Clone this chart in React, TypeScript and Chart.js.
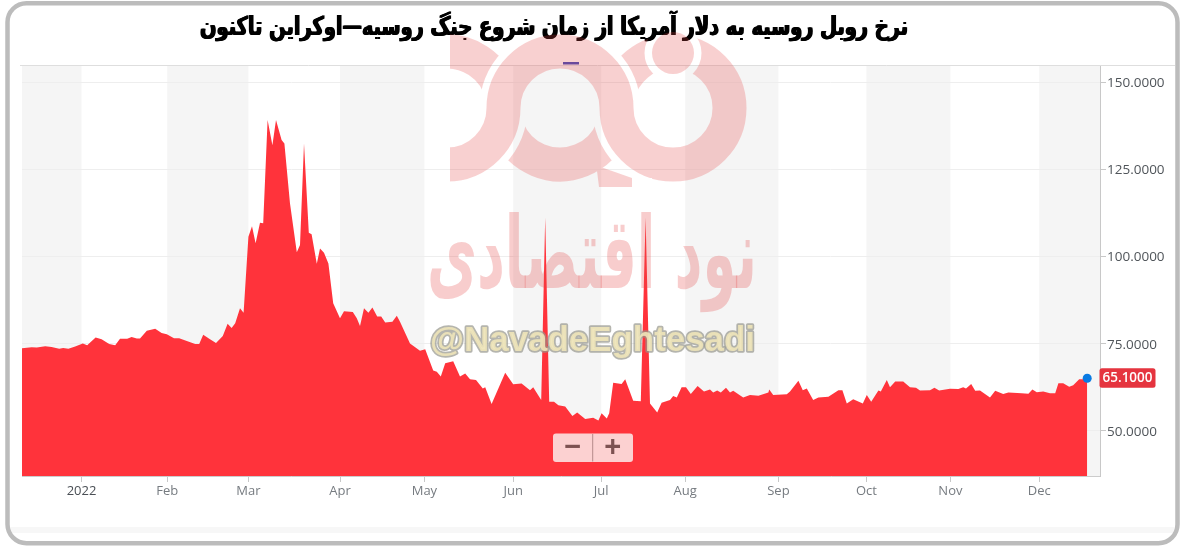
import React, { useEffect, useRef } from "react";
import { Chart, registerables } from "chart.js";

Chart.register(...registerables);

const chartTitle = "نرخ روبل روسیه به دلار آمریکا از زمان شروع جنگ روسیه—اوکراین تاکنون";
const watermarkName = "نود اقتصادی";
const watermarkHandle = "@NavadeEghtesadi";

const monthLabels = ["2022", "Feb", "Mar", "Apr", "May", "Jun", "Jul", "Aug", "Sep", "Oct", "Nov", "Dec"];
const monthSessions = [14.875, 36.3, 56.6, 79.5, 100.6, 122.8, 144.8, 165.8, 189.1, 211.1, 232.1, 254.3];
const yTicks = [50, 75, 100, 125, 150];

const janMarSessions = [0, 2.4, 3.7, 5.8, 7.4, 9.3, 10.3, 11.6, 13.3, 15.2, 16.3, 18.4, 19.9, 21.8, 23.3, 24.5, 26.3, 27.4, 28.7, 29.5, 31.2, 33.3, 34.9, 36.2, 38, 39.3, 41.2, 43.3, 44.3, 45.3, 47, 48.5, 50.2, 51.4, 52.4, 53.3, 54.5, 55.4, 56.6, 57.5, 58.4, 59.5, 60.3, 61.4, 62.6, 63.5, 64.9, 65.6, 67, 68.7, 69.5, 70.5, 71.7, 72.4, 73.7, 74.5, 75.5, 76.6, 77.8, 79.5, 80.5, 82.7, 83.7, 84.5, 85.5, 86.6, 87.6, 88.8, 89.8, 90.8, 92.6, 93.7];
const janMarRates = [73.7, 74.0, 73.9, 74.3, 74.1, 73.6, 73.8, 73.6, 74.2, 75.1, 74.6, 76.8, 76.3, 74.9, 74.6, 76.4, 76.4, 76.9, 76.5, 76.5, 78.7, 79.3, 78.1, 77.7, 76.6, 76.6, 75.8, 74.9, 74.9, 77.6, 76.3, 75.2, 77.2, 80.7, 79.5, 80.9, 85.2, 83.9, 105.7, 108.7, 103.8, 109.7, 109.5, 139.1, 131.9, 139.1, 133.4, 132.4, 115.2, 101.2, 103.3, 132.4, 106.8, 106.4, 97.9, 102.3, 101.1, 98.0, 86.6, 82.3, 84.3, 84.1, 82.3, 80.1, 85.2, 83.9, 85.4, 82.8, 82.8, 81.1, 81.3, 83.0];

const aprSepSessions = [94.5, 97, 99.5, 100.8, 102.8, 103.7, 104.7, 105.8, 107.8, 109.5, 110.8, 112, 113.5, 115.2, 115.8, 117.4, 120.8, 122.8, 124.9, 127, 127.8, 129.8, 130.8, 131.8, 133, 134.1, 135.8, 137.6, 138.8, 140.8, 142.8, 144.1, 144.9, 146.2, 146.8, 147.8, 149.9, 150.8, 152.8, 154.7, 155.9, 157, 158.8, 159.9, 162, 162.8, 163.7, 164.9, 166, 167.2, 168.9, 170.5, 172, 172.8, 173.8, 174.7, 176, 177, 177.8, 180.3, 182, 184.1, 186.6, 186.8, 187.8, 191.2];
const aprSepRates = [81.3, 75.1, 73.0, 73.4, 67.3, 67.0, 65.6, 69.4, 70.0, 65.6, 66.5, 64.8, 64.6, 62.2, 62.5, 57.7, 66.7, 63.4, 63.6, 61.7, 62.5, 58.9, 111.2, 58.4, 58.4, 57.4, 57.0, 54.3, 55.3, 53.4, 53.8, 53.0, 55.1, 53.6, 55.1, 63.8, 63.5, 64.8, 58.7, 58.5, 111.2, 57.9, 55.3, 58.1, 58.9, 60.0, 59.6, 62.5, 62.5, 60.6, 62.9, 61.3, 61.9, 61.0, 61.6, 61.0, 62.4, 61.0, 61.5, 59.6, 60.3, 60.1, 61.0, 61.9, 60.3, 60.5];

const sepDecSessions = [192, 194.1, 195.2, 196.2, 197.8, 199.1, 201.6, 204.1, 205.1, 206.2, 207.8, 210.2, 211.2, 212.3, 214.1, 214.7, 216.2, 217, 218.3, 220.3, 222, 223.5, 224.5, 227, 228.1, 229.3, 232, 234.1, 235.3, 236, 237.3, 238.3, 239.5, 242, 243.3, 245.3, 246.6, 249.9, 251.6, 252.6, 253.7, 255.3, 257, 258.3, 259.1, 260.3, 261.8, 262.8, 264.3, 265.3, 266.3];
const sepDecRates = [61.3, 64.4, 61.7, 62.2, 58.9, 59.6, 59.8, 61.7, 61.7, 57.9, 59.1, 57.9, 60.3, 58.4, 61.6, 61.3, 64.6, 62.5, 64.2, 64.2, 62.5, 62.4, 61.6, 61.7, 62.4, 61.6, 62.1, 62.0, 62.5, 62.2, 63.5, 61.5, 61.6, 59.6, 61.5, 60.6, 61.0, 60.8, 60.7, 61.9, 61.1, 61.3, 60.8, 60.8, 63.7, 63.7, 62.7, 63.1, 64.8, 64.8, 65.1];

const sessions = [...janMarSessions, ...aprSepSessions, ...sepDecSessions];
const rates = [...janMarRates, ...aprSepRates, ...sepDecRates];
const lastRate = rates[rates.length - 1];

const W = 1188;
const H = 549;
const AREA = { left: 22, right: 1100, top: 66, bottom: 476 };
const TITLE_CENTER = 554;
const TITLE_SQUEEZE = 0.745;

const backdropPlugin = {
  id: "backdrop",
  beforeDraw(chart: any) {
    const { ctx, chartArea, scales } = chart;
    ctx.save();
    ctx.fillStyle = "#ffffff";
    ctx.fillRect(0, 0, W, H);
    ctx.fillStyle = "#f7f7f7";
    ctx.fillRect(10, 527, 1165, 6);
    ctx.fillStyle = "#f5f5f5";
    const edges = [scales.x.min, ...monthSessions, scales.x.max];
    for (let i = 0; i < edges.length - 1; i += 2) {
      const a = scales.x.getPixelForValue(edges[i]);
      const b = scales.x.getPixelForValue(edges[i + 1]);
      ctx.fillRect(a, chartArea.top, b - a, chartArea.bottom - chartArea.top);
    }
    ctx.strokeStyle = "#dedede";
    ctx.lineWidth = 1;
    ctx.beginPath();
    ctx.moveTo(20, 65.5);
    ctx.lineTo(1175, 65.5);
    ctx.stroke();
    ctx.strokeStyle = "#bcbcbc";
    ctx.lineWidth = 4.5;
    ctx.beginPath();
    ctx.roundRect(7.5, 3.2, 1170, 540, 19);
    ctx.stroke();
    ctx.restore();
  },
};

function drawLogo(): HTMLCanvasElement {
  const c = document.createElement("canvas");
  c.width = W;
  c.height = H;
  const g = c.getContext("2d") as CanvasRenderingContext2D;
  const cy = 108;
  const ax = 447;
  const bx = 560;
  const dx = 673;
  const r = 56.5;
  const lw = 34;
  g.lineWidth = lw;
  g.strokeStyle = "#000";
  g.fillStyle = "#000";
  g.beginPath();
  g.arc(ax, cy, r, -Math.PI / 2 - 0.2, -0.2);
  g.stroke();
  g.beginPath();
  g.arc(bx, cy, r, 0.4, Math.PI - 0.4);
  g.stroke();
  g.beginPath();
  g.arc(dx, cy, r, Math.PI + 0.2, -Math.PI / 2);
  g.stroke();
  g.beginPath();
  g.moveTo(595, 165);
  g.lineTo(632, 178);
  g.lineTo(632, 187);
  g.lineTo(599, 187);
  g.lineTo(597, 171);
  g.closePath();
  g.fill();
  const sPath = () => {
    g.beginPath();
    g.arc(ax, cy, r, Math.PI / 2, 0, true);
    g.arc(bx, cy, r, Math.PI, 0, false);
    g.arc(dx, cy, r, Math.PI, -Math.PI / 2, true);
  };
  g.globalCompositeOperation = "destination-out";
  g.lineWidth = lw + 14;
  sPath();
  g.stroke();
  g.globalCompositeOperation = "source-over";
  g.lineWidth = lw;
  sPath();
  g.stroke();
  g.globalCompositeOperation = "destination-out";
  g.beginPath();
  g.arc(dx, 53, 28.5, 0, Math.PI * 2);
  g.fill();
  g.globalCompositeOperation = "source-over";
  g.beginPath();
  g.arc(dx, 53, 21, 0, Math.PI * 2);
  g.fill();
  g.globalCompositeOperation = "destination-out";
  g.fillRect(0, 0, 450, H);
  g.fillRect(632, 178, 20, 12);
  g.globalCompositeOperation = "source-in";
  g.fillStyle = "#e64646";
  g.fillRect(0, 0, W, H);
  return c;
}

const overlayPlugin = {
  id: "overlay",
  afterDraw(chart: any) {
    const { ctx, scales } = chart;
    ctx.save();
    // logo watermark
    ctx.globalAlpha = 0.25;
    ctx.drawImage(drawLogo(), 0, 0);
    ctx.globalAlpha = 1;

    // purple dash
    ctx.fillStyle = "#6a4a9c";
    ctx.fillRect(563, 62, 16, 2.5);

    // name watermark
    ctx.fillStyle = "rgba(230,70,70,0.27)";
    ctx.textAlign = "center";
    ctx.textBaseline = "alphabetic";
    ctx.font = 'bold 100px "DejaVu Sans"';
    ctx.fillText(watermarkName, 592, 288, 330);

    // handle watermark
    ctx.font = 'bold 35px "Liberation Sans"';
    ctx.lineJoin = "round";
    ctx.lineWidth = 3.5;
    ctx.strokeStyle = "rgba(150,150,140,0.7)";
    ctx.strokeText(watermarkHandle, 592.5, 351, 325);
    ctx.fillStyle = "rgba(238,228,185,0.92)";
    ctx.fillText(watermarkHandle, 592.5, 351, 325);

    // last value tag
    const yLast = scales.y.getPixelForValue(lastRate);
    ctx.fillStyle = "#e5343f";
    ctx.beginPath();
    ctx.roundRect(1099.5, yLast - 10, 56, 19.5, 2.5);
    ctx.fill();
    ctx.fillStyle = "#ffffff";
    ctx.font = '600 13.5px "Open Sans"';
    ctx.textAlign = "center";
    ctx.textBaseline = "middle";
    ctx.fillText(lastRate.toFixed(4), 1127.5, yLast + 0.2);

    // zoom control
    ctx.fillStyle = "rgba(252,226,226,0.9)";
    ctx.beginPath();
    ctx.roundRect(553, 433.5, 80, 28.5, 3);
    ctx.fill();
    ctx.strokeStyle = "#b58a8a";
    ctx.lineWidth = 1;
    ctx.beginPath();
    ctx.moveTo(592.7, 434);
    ctx.lineTo(592.7, 461.5);
    ctx.stroke();
    ctx.fillStyle = "#7d5252";
    ctx.font = 'bold 29px "Liberation Sans"';
    ctx.fillText("−", 572.7, 447.5);
    ctx.fillText("+", 612.7, 447.5);
    ctx.restore();
  },
};

// The title box keeps its place in the layout; only its drawing is narrowed and thickened.
const titleShapePlugin = {
  id: "titleShape",
  afterLayout(chart: any) {
    const block = chart.titleBlock;
    if (!block || block.__shaped) return;
    const original = block.draw;
    block.__shaped = true;
    block.draw = function (...args: any[]) {
      const ctx = chart.ctx;
      this.left = 0;
      this.right = 2 * TITLE_CENTER;
      for (const dx of [-0.7, 0, 0.7]) {
        ctx.save();
        ctx.translate(TITLE_CENTER + dx, 0);
        ctx.scale(TITLE_SQUEEZE, 1);
        ctx.translate(-TITLE_CENTER, 0);
        original.apply(this, args);
        ctx.restore();
      }
    };
  },
};

export default function App() {
  const ref = useRef<HTMLCanvasElement | null>(null);
  useEffect(() => {
    if (!ref.current) return;
    const chart = new Chart(ref.current, {
      type: "line",
      data: {
        datasets: [
          {
            label: "RUB/USD",
            data: sessions.map((x, i) => ({ x, y: rates[i] })),
            backgroundColor: "#ff333b",
            borderColor: "#ff333b",
            borderWidth: 0,
            tension: 0,
            fill: "start",
            pointRadius: (c: any) => (c.dataIndex === sessions.length - 1 ? 4.5 : 0),
            pointBackgroundColor: "#0a7ae2",
            pointBorderWidth: 0,
            clip: false,
          },
        ],
      },
      options: {
        responsive: false,
        animation: false,
        devicePixelRatio: 1,
        layout: { padding: { left: AREA.left, right: 0, top: 0, bottom: 0 } },
        plugins: {
          legend: { display: false },
          tooltip: { enabled: false },
          title: {
            display: true,
            text: chartTitle,
            color: "#000000",
            font: { family: '"DejaVu Sans"', size: 26, weight: "bold", lineHeight: 1.2 },
            padding: { top: 13, bottom: 21.8 },
          },
        },
        scales: {
          x: {
            type: "linear",
            min: 0,
            max: 269.5,
            afterBuildTicks: (s: any) => {
              s.ticks = monthSessions.map((value) => ({ value }));
            },
            afterFit: (s: any) => {
              s.height = H - AREA.bottom;
            },
            grid: { drawOnChartArea: false, drawTicks: true, tickLength: 6, color: "#c8c8c8" },
            border: { display: true, color: "#cccccc" },
            ticks: {
              autoSkip: false,
              maxRotation: 0,
              padding: 1,
              color: (c: any) => (c.index === 0 ? "#4a4f55" : "#767b80"),
              font: { family: '"Open Sans"', size: 13 },
              callback: (_v: any, i: number) => monthLabels[i],
            },
          },
          y: {
            type: "linear",
            position: "right",
            min: 37.1,
            max: 154.6,
            afterBuildTicks: (s: any) => {
              s.ticks = yTicks.map((value) => ({ value }));
            },
            afterFit: (s: any) => {
              s.width = W - AREA.right;
            },
            grid: { color: "#eeeeee", tickLength: 6, tickColor: "#c8c8c8" },
            border: { display: true, color: "#c8c8c8" },
            ticks: {
              padding: 1,
              labelOffset: 1,
              color: "#50555a",
              font: { family: '"Open Sans"', size: 13.5 },
              callback: (v: any) => Number(v).toFixed(4),
            },
          },
        },
      },
      plugins: [backdropPlugin, overlayPlugin, titleShapePlugin],
    } as any);
    return () => chart.destroy();
  }, []);
  return (
    <div style={{ position: "absolute", left: 0, top: 0, width: W, height: H, background: "#fff" }}>
      <canvas ref={ref} width={W} height={H} style={{ display: "block", width: W, height: H }} />
    </div>
  );
}
